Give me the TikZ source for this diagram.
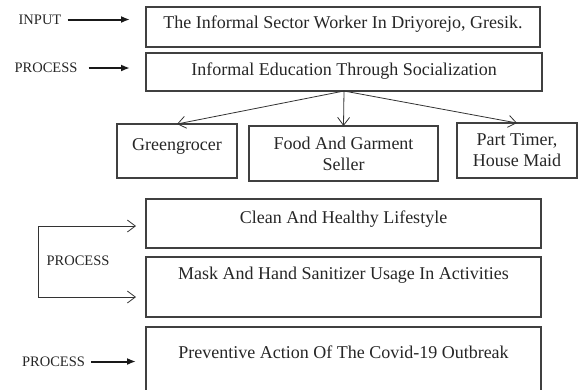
\documentclass[tikz,border=0pt]{standalone}
\usepackage{fontspec}
\setmainfont{Liberation Serif}
\usetikzlibrary{arrows.meta}
\begin{document}
\begin{tikzpicture}[x=1pt, y=-1pt,
    box/.style={draw=black!75, line width=1.2pt, rectangle, inner sep=0pt, outer sep=0pt,
        text=black!85, font=\fontsize{18}{21}\selectfont, align=center},
    oneline/.style={box, text height=12pt},
    tag/.style={text=black!85, font=\fontsize{14.5}{17}\selectfont, inner sep=0pt},
    feed/.style={line width=2pt, black!90, -{Latex[length=9pt,width=7pt]}},
    branch/.style={line width=0.8pt, black!80, -{Straight Barb[length=8pt,width=12pt]}}]
    \useasboundingbox (0,0) rectangle (584,389);

    % Input and first process
    \node[oneline, minimum width=394, minimum height=40, text depth=10pt] (worker) at (343,27)
        {The Informal Sector Worker In Driyorejo, Gresik.};
    \node[oneline, minimum width=396, minimum height=38, text depth=6pt] (educ) at (344,72)
        {Informal Education Through Socialization};
    \node[tag] (input) at (40,19.5) {INPUT};
    \node[tag] (proc1) at (46,68) {PROCESS};
    \draw[feed, shorten <=6pt, shorten >=16pt] (input.east) -- (input -| worker.west);
    \draw[feed, shorten <=11pt, shorten >=16pt] (proc1.east) -- (proc1 -| educ.west);

    % The three kinds of workers
    \node[oneline, minimum width=120, minimum height=54, text depth=14pt] (green) at (177,151) {Greengrocer};
    \node[box, minimum width=189, minimum height=55] (food) at (343.5,153.5) {Food And Garment\\Seller};
    \node[box, minimum width=120, minimum height=55] (part) at (517,150.5) {Part Timer,\\House Maid};
    \draw[branch] (educ.south) -- (green.north);
    \draw[branch] (educ.south) -- (food.north);
    \draw[branch] (educ.south) -- (part.north);

    % Second process (bracket)
    \node[oneline, minimum width=395, minimum height=49, text depth=13pt] (clean) at (343.5,223.5)
        {Clean And Healthy Lifestyle};
    \node[oneline, minimum width=395, minimum height=60, text depth=28pt] (mask) at (343.5,287)
        {Mask And Hand Sanitizer Usage In Activities};
    \node[tag] (proc2) at (78,261) {PROCESS};
    \coordinate (btop) at (38,226);
    \coordinate (bbot) at (38,297);
    \draw[branch, {Straight Barb[length=8pt,width=12pt]}-{Straight Barb[length=8pt,width=12pt]},
        shorten <=10pt, shorten >=10pt] (btop -| clean.west) -- (btop) -- (bbot) -- (bbot -| mask.west);

    % Outcome
    \node[oneline, minimum width=395, minimum height=65, text depth=15pt] (prev) at (343.5,359.5)
        {Preventive Action Of The Covid-19 Outbreak};
    \node[tag] (proc3) at (53.5,361.5) {PROCESS};
    \draw[feed, shorten <=6pt, shorten >=10pt] (proc3.east) -- (proc3 -| prev.west);
\end{tikzpicture}
\end{document}
